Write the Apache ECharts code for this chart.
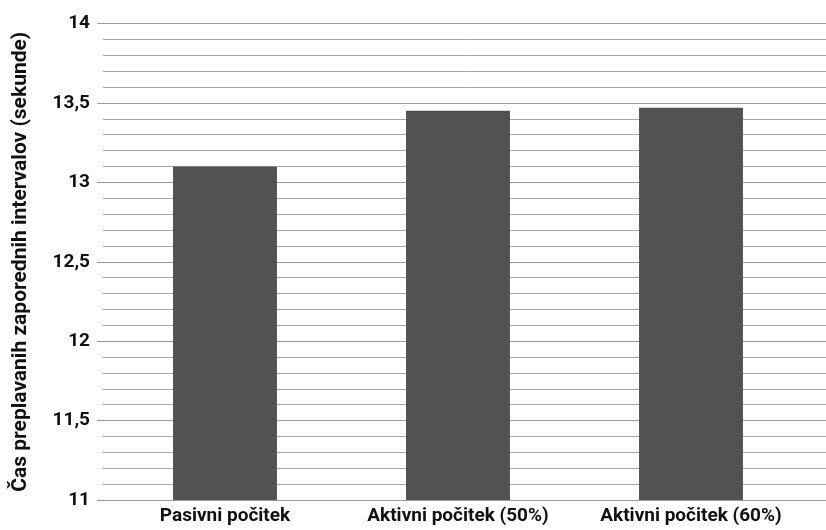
<!DOCTYPE html>
<html>
<head>
<meta charset="utf-8">
<script src="https://cdn.jsdelivr.net/npm/echarts@6/dist/echarts.min.js"></script>
<style>
  html, body { margin: 0; padding: 0; background: #fff; }
  #chart { width: 826px; height: 530px; }
</style>
</head>
<body>
<div id="chart"></div>
<script>
// Average time of consecutive swim intervals per recovery type
const categories = ['Pasivni počitek', 'Aktivni počitek (50%)', 'Aktivni počitek (60%)'];
const times = [13.1, 13.45, 13.47];
const yMin = 11, yMax = 14, yStep = 0.5;
const yTitle = 'Čas preplavanih zaporednih intervalov (sekunde)';

const FONT = 'Roboto, "DejaVu Sans", sans-serif';
const TOP = 23.5, BOTTOM = 30;

const chart = echarts.init(document.getElementById('chart'), null, { renderer: 'canvas' });
chart.setOption({
  animation: false,
  grid: [
    // grid carrying the value axis, gridlines and title
    { left: 103, right: 0, top: TOP, bottom: BOTTOM },
    // grid carrying the bars
    { left: 108.5, right: 18.5, top: TOP, bottom: BOTTOM }
  ],
  xAxis: [
    { gridIndex: 0, type: 'value', show: false },
    {
      gridIndex: 1, type: 'category', data: categories,
      axisLine: { show: false }, axisTick: { show: false },
      axisLabel: {
        interval: 0, hideOverlap: false,
        color: '#111', fontFamily: FONT, fontWeight: 'bold', fontSize: 19, margin: 7
      }
    }
  ],
  yAxis: [
    {
      gridIndex: 0, type: 'value', min: yMin, max: yMax, interval: yStep,
      name: yTitle, nameLocation: 'middle', nameGap: 72,
      nameTextStyle: { color: '#111', fontFamily: FONT, fontWeight: 'bold', fontSize: 21 },
      axisLine: { show: false },
      axisTick: { show: true, length: 6, lineStyle: { color: '#9a9a9a', width: 1 } },
      axisLabel: {
        color: '#111', fontFamily: FONT, fontWeight: 'bold', fontSize: 19, margin: 13,
        formatter: v => String(v).replace('.', ',')
      },
      splitLine: { show: true, lineStyle: { color: '#9a9a9a', width: 1 } },
      minorTick: { show: false, splitNumber: 5 },
      minorSplitLine: { show: true, lineStyle: { color: '#a6a6a6', width: 1 } }
    },
    { gridIndex: 1, type: 'value', min: yMin, max: yMax, show: false, splitLine: { show: false } }
  ],
  series: [{
    type: 'bar', xAxisIndex: 1, yAxisIndex: 1,
    data: times, barWidth: '44.6%',
    itemStyle: { color: '#525252' }
  }]
});
</script>
</body>
</html>
